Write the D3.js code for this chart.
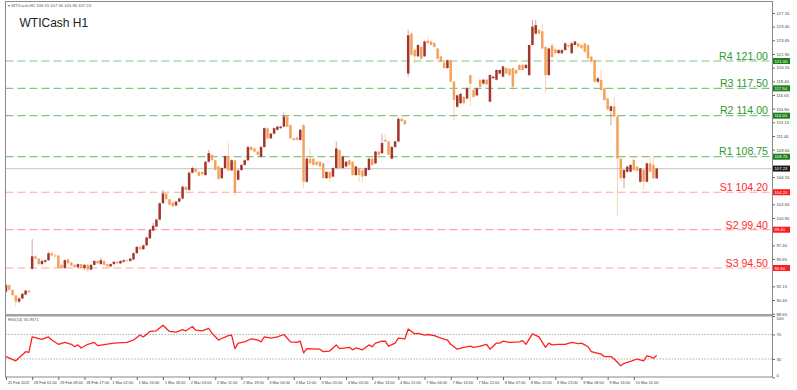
<!DOCTYPE html>
<html>
<head>
<meta charset="utf-8">
<script src="https://cdn.jsdelivr.net/npm/d3@7"></script>
<style>
  body { margin: 0; background: #fff; }
  svg { display: block; font-family: "Liberation Sans", Arial, sans-serif; }
</style>
</head>
<body>
<div id="chart"></div>
<script>
// WTICash H1 candles, one row per hour bar: open, high, low, close
var bars = [
  [91.5,92.5,91.3,92.3],[92.3,92.4,91.6,91.7],[91.7,91.8,90.9,91.0],[91.0,91.1,89.6,90.2],
  [90.2,90.8,90.0,90.6],[90.6,91.3,90.5,91.2],[91.1,91.7,91.0,91.6],[91.6,91.7,91.3,91.4],
  [94.4,98.2,94.3,96.0],[96.0,96.2,95.6,95.7],[95.7,95.8,94.8,95.0],[95.0,95.6,94.9,95.4],
  [95.3,95.6,95.1,95.5],[95.5,96.6,95.4,96.4],[96.4,96.6,96.0,96.1],[96.1,96.4,95.8,96.0],
  [96.1,96.2,94.4,94.5],[94.9,95.1,94.4,94.5],[94.5,95.6,94.4,95.5],[95.6,95.7,95.0,95.1],
  [95.2,95.3,94.7,94.8],[94.9,95.0,94.5,94.6],[94.6,95.1,94.5,95.0],[95.0,95.1,94.4,94.5],
  [94.5,95.0,94.2,94.9],[94.9,95.0,93.9,94.3],[94.3,95.0,94.2,94.9],[94.9,95.5,94.8,95.4],
  [95.4,95.5,95.0,95.1],[95.0,95.8,94.9,95.5],[95.4,95.5,94.8,94.9],[95.0,95.1,94.6,94.7],
  [94.7,95.1,94.6,95.0],[95.0,95.4,94.9,95.3],[95.3,95.4,95.0,95.1],[95.1,95.5,95.0,95.4],
  [95.3,95.6,95.2,95.5],[95.5,95.6,95.3,95.4],[95.4,95.8,95.3,95.7],[95.6,96.5,95.5,96.4],
  [96.4,97.3,96.3,97.2],[97.2,97.4,96.8,96.9],[96.9,97.5,96.8,97.4],[97.4,98.5,97.3,98.4],
  [98.3,99.5,98.2,99.4],[99.3,100.3,99.2,99.9],[99.8,100.8,99.7,100.7],[100.7,102.9,100.6,102.8],
  [102.8,104.5,102.7,104.05],[104.0,104.2,103.2,103.3],[103.3,103.4,102.5,102.6],[102.9,103.0,102.3,102.4],
  [102.5,103.1,102.4,103.0],[103.0,103.5,102.9,103.4],[103.4,105.1,103.3,104.9],[104.9,105.0,104.4,104.5],
  [104.5,106.9,104.4,106.7],[106.7,107.5,106.6,107.3],[107.2,107.4,106.7,106.8],[106.8,106.9,106.2,106.3],
  [106.8,106.9,106.3,106.5],[106.4,108.2,106.3,108.1],[108.1,109.6,108.0,109.2],[109.0,109.2,108.2,108.3],
  [108.3,108.4,107.0,107.05],[107.5,107.6,105.8,105.9],[106.0,107.4,105.9,107.3],[107.3,108.9,107.2,108.8],
  [108.8,110.5,106.9,107.0],[107.0,108.4,106.9,108.3],[108.3,108.4,103.7,104.1],[105.8,107.1,105.7,107.0],
  [107.05,107.8,106.9,107.7],[107.7,108.4,107.6,108.3],[108.3,110.1,108.2,110.0],[110.0,110.2,109.5,109.6],
  [109.8,109.9,109.3,109.4],[109.4,109.5,108.9,109.0],[108.75,110.1,108.6,110.0],[110.0,112.5,109.9,112.4],
  [112.4,112.5,111.0,111.1],[111.1,111.8,111.0,111.7],[111.7,112.5,111.6,112.4],[112.2,112.7,112.1,112.6],
  [112.4,112.7,112.3,112.6],[112.6,114.4,112.5,113.9],[113.9,114.0,112.5,112.6],[112.8,112.9,111.0,111.1],
  [111.1,111.2,110.8,110.9],[111.2,111.3,110.8,110.9],[110.9,112.3,110.8,112.2],[112.8,112.9,104.7,105.55],
  [105.55,108.6,105.4,108.5],[108.5,109.8,107.8,107.9],[108.5,108.6,107.6,107.7],[108.1,108.2,107.6,107.7],
  [108.1,108.2,107.4,107.5],[107.9,108.0,105.9,106.0],[106.0,106.9,105.9,106.8],[106.8,106.9,105.5,106.0],
  [106.2,107.4,106.1,107.3],[107.3,110.7,107.2,109.8],[109.6,109.7,107.2,107.3],[107.3,108.9,107.2,108.75],
  [107.5,108.2,107.4,108.1],[108.3,108.4,107.6,107.7],[108.1,108.2,106.3,106.4],[106.4,107.6,106.3,107.5],
  [107.3,107.4,105.55,106.4],[107.0,107.1,105.5,106.2],[106.3,107.4,106.2,107.3],[107.05,108.6,107.0,108.5],
  [108.5,108.6,107.6,107.7],[107.9,109.5,107.8,109.4],[109.4,109.5,108.9,109.0],[109.2,111.7,109.1,110.5],
  [110.9,111.7,110.6,110.7],[110.7,110.8,108.9,109.0],[108.5,110.1,108.4,110.0],[110.0,110.8,109.9,110.7],
  [110.7,113.8,110.6,113.6],[113.6,113.8,113.2,113.3],[113.4,113.5,112.8,112.9],[119.4,125.0,119.0,124.3],
  [124.5,124.8,121.6,121.8],[122.4,122.6,120.7,121.6],[121.6,123.2,121.5,123.05],[122.8,123.0,121.2,121.3],
  [121.6,123.6,121.5,123.5],[123.6,124.1,123.2,123.3],[123.5,123.7,123.0,123.05],[123.3,123.4,122.7,122.8],
  [122.6,122.7,121.2,121.3],[121.6,121.7,120.8,120.9],[120.8,120.9,120.0,120.1],[120.1,121.2,120.0,121.1],
  [121.1,121.2,118.3,118.35],[118.35,118.5,113.45,116.0],[115.15,116.7,115.0,116.6],[115.6,116.9,115.5,116.8],
  [116.4,116.5,115.5,115.6],[116.2,117.6,116.1,117.5],[119.2,119.3,115.2,118.1],[117.3,117.4,116.3,116.4],
  [116.6,117.6,116.5,117.5],[118.6,118.7,117.6,117.7],[118.1,118.7,118.0,118.6],[118.6,118.7,117.9,118.0],
  [115.8,119.3,115.7,119.2],[118.8,119.1,118.7,119.0],[118.6,119.9,118.5,119.85],[119.4,119.9,119.3,119.85],
  [119.0,120.4,118.9,120.3],[120.1,120.2,119.3,119.4],[120.0,120.1,119.1,119.2],[120.1,120.2,117.3,117.7],
  [119.85,119.9,119.3,119.4],[120.5,120.6,119.8,119.85],[120.5,120.6,119.8,119.85],[120.1,120.6,120.0,120.5],
  [119.2,123.1,119.1,123.05],[123.05,126.25,123.0,125.4],[124.5,126.25,124.4,125.6],[125.0,125.1,124.4,124.5],
  [124.8,125.8,122.5,122.6],[122.8,122.9,116.9,119.2],[119.2,122.7,119.1,122.6],[123.0,123.3,121.4,121.5],
  [122.5,122.6,121.9,122.0],[122.0,122.5,121.9,122.4],[122.0,122.5,121.9,122.4],[122.4,123.4,122.3,123.26],
  [123.05,123.1,122.7,122.84],[122.0,123.4,121.9,123.26],[123.05,123.6,123.0,123.5],[123.26,123.3,122.7,122.84],
  [123.05,123.1,122.5,122.62],[123.26,123.3,122.1,122.2],[123.05,123.1,121.2,121.34],[121.56,121.6,120.8,120.92],
  [121.13,121.2,118.2,118.35],[118.35,118.9,118.2,118.78],[118.57,119.85,117.2,117.29],[117.5,117.6,115.9,116.0],
  [116.2,116.3,114.7,114.8],[114.6,115.3,112.8,115.2],[115.2,116.4,113.8,113.9],[113.9,114.0,101.07,108.5],
  [108.5,108.6,105.55,106.0],[106.0,107.1,104.7,107.05],[106.83,107.6,106.7,107.47],[106.83,107.8,106.7,107.69],
  [108.33,108.75,106.9,107.05],[107.47,107.6,106.8,106.96],[105.55,107.3,105.4,107.26],[107.05,107.2,104.5,105.55],
  [105.55,108.0,105.4,107.9],[107.9,108.75,106.7,106.83],[107.69,108.75,105.9,105.98],[105.98,107.34,105.9,107.23]
];

// RSI(14): bar index, value
var rsiBars = [0,3,6,7,8,11,13,14,16,18,20,21,22,23,25,27,28,33,37,39,41,42,44,46,48,50,52,54,55,57,58,60,62,63,65,68,69,70,71,73,75,77,78,79,81,83,85,87,89,90,91,92,96,97,99,101,102,105,106,107,109,111,112,113,115,116,117,119,120,122,123,125,126,128,129,131,133,135,136,138,140,142,143,145,147,148,150,151,152,154,157,158,159,161,163,165,166,167,169,171,173,175,176,178,179,182,183,185,186,188,189,191,193,195,196,197,198,199];
var rsiVals = [34,27,42,41,66,62,66,61,54,57,54,50,53,48,54,57,52,56,57,61,69,66,75,76,85,75,74,78,76,83,77,76,80,72,61,68,69,47,56,58,63,61,58,66,64,66,70,58,57,59,40,47,46,42,43,53,47,49,45,48,45,53,50,56,59,59,51,56,64,63,79,71,72,69,70,68,64,61,54,46,49,51,49,51,54,46,56,56,59,57,58,60,54,71,66,49,56,53,54,54,57,55,56,50,42,38,34,34,30,19,23,26,30,27,35,34,31,36];

// pivot levels
var levelNames  = ["R4","R3","R2","R1","S1","S2","S3"];
var levelValues = [121.00,117.50,114.00,108.75,104.20,99.40,94.50];
var lastPrice = 107.23;

// right price scale labels
var priceTicks = [88.65,90.40,92.15,93.90,95.65,97.40,99.15,100.90,102.65,104.40,106.15,107.90,
                  109.65,111.40,113.15,114.90,116.65,118.40,120.15,121.90,123.65,125.40,127.15];

// time scale labels every 8 bars
var timeBars = [0,8,16,24,32,40,48,56,64,72,80,88,96,104,112,120,128,136,144,152,160,168,176,184,192];
var timeLabels = ["25 Feb 2022","28 Feb 01:00","28 Feb 09:00","28 Feb 17:00","1 Mar 02:00","1 Mar 10:00",
  "1 Mar 18:00","2 Mar 03:00","2 Mar 11:00","2 Mar 19:00","3 Mar 04:00","3 Mar 12:00","3 Mar 20:00",
  "4 Mar 05:00","4 Mar 13:00","4 Mar 21:00","7 Mar 06:00","7 Mar 14:00","7 Mar 22:00","8 Mar 07:00",
  "8 Mar 15:00","8 Mar 23:00","9 Mar 08:00","9 Mar 16:00","10 Mar 01:00"];

var rsiTicks = [0,30,70,100];

var W = 797, H = 390;
var plot = {left: 5.5, right: 772.5, top: 1.5, mainBot: 314, rsiTop: 316.5, bot: 377};

var col = {
    bull: "#a3352c", bear: "#f4a25a",
    resLine: "#86c186", resText: "#2f9a2f", resBox: "#1f7f1f",
    supLine: "#ffa5a5", supText: "#ff2b2b", supBox: "#ff1c1c",
    axis: "#8a8a8a", text: "#333"
};
var tinyFont = "4.2px";

var svg = d3.select("#chart").append("svg")
    .attr("width", W)
    .attr("height", H);

var x = d3.scaleLinear().domain([0, 199]).range([6, 656.7]);
var y = d3.scaleLinear().domain([94.5, 121]).range([268, 61]);
var ry = d3.scaleLinear().domain([0, 100]).range([377.4, 316.1]);

svg.append("defs").append("clipPath").attr("id", "clipMain")
    .append("rect")
    .attr("x", plot.left).attr("y", plot.top)
    .attr("width", plot.right - plot.left).attr("height", plot.mainBot - plot.top);

var main = svg.append("g").attr("clip-path", "url(#clipMain)");

// last price line
main.append("line")
    .attr("x1", plot.left).attr("x2", plot.right)
    .attr("y1", y(lastPrice)).attr("y2", y(lastPrice))
    .attr("stroke", "#cfcfcf").attr("stroke-width", 1.2);

// pivot lines
levelValues.forEach(function(v, i) {
    var res = levelNames[i][0] == "R";
    main.append("line")
        .attr("x1", plot.left).attr("x2", plot.right)
        .attr("y1", y(v)).attr("y2", y(v))
        .attr("stroke", res ? col.resLine : col.supLine)
        .attr("stroke-width", 1.2)
        .attr("stroke-dasharray", "8,4");
});

// candles
var candles = main.append("g").selectAll("g")
    .data(bars)
    .enter().append("g");

candles.append("line")
    .attr("x1", function(d, i) { return x(i); })
    .attr("x2", function(d, i) { return x(i); })
    .attr("y1", function(d) { return y(d[1]); })
    .attr("y2", function(d) { return y(d[2]); })
    .attr("stroke", function(d) { return d[3] >= d[0] ? col.bull : col.bear; })
    .attr("stroke-opacity", 0.45)
    .attr("stroke-width", 1);

candles.append("rect")
    .attr("x", function(d, i) { return x(i) - 1.25; })
    .attr("width", 2.5)
    .attr("y", function(d) { return y(Math.max(d[0], d[3])); })
    .attr("height", function(d) { return Math.max(0.8, Math.abs(y(d[0]) - y(d[3]))); })
    .attr("fill", function(d) { return d[3] >= d[0] ? col.bull : col.bear; });

// pivot labels
levelValues.forEach(function(v, i) {
    var res = levelNames[i][0] == "R";
    svg.append("text")
        .attr("x", 768).attr("y", y(v) - 1.2)
        .attr("text-anchor", "end")
        .attr("font-size", "10.6px")
        .attr("fill", res ? col.resText : col.supText)
        .text(levelNames[i] + " " + v.toFixed(2));
});

// title + header
svg.append("text")
    .attr("x", 19.5).attr("y", 26.5)
    .attr("font-size", "12px")
    .attr("fill", "#222")
    .text("WTICash H1");

svg.append("text")
    .attr("x", 8).attr("y", 6.5)
    .attr("font-size", tinyFont)
    .attr("fill", "#555")
    .text("\u25BE WTICash,H1  106.15 107.34 105.90 107.23");

// frame
svg.append("rect")
    .attr("x", plot.left).attr("y", plot.top)
    .attr("width", plot.right - plot.left).attr("height", plot.bot - plot.top)
    .attr("fill", "none").attr("stroke", col.axis).attr("stroke-width", 1);

svg.append("rect")
    .attr("x", plot.left).attr("y", plot.mainBot)
    .attr("width", plot.right - plot.left).attr("height", plot.rsiTop - plot.mainBot)
    .attr("fill", "#a3a3a3");

// level boxes on the price scale
var boxes = levelValues.map(function(v, i) {
    return {v: v, fill: levelNames[i][0] == "R" ? col.resBox : col.supBox};
});
boxes.push({v: lastPrice, fill: "#1a1a1a"});

// right price axis, skipping labels hidden under a level box
var shownTicks = priceTicks.filter(function(t) {
    return boxes.every(function(b) { return Math.abs(y(t) - y(b.v)) > 5.5; });
});
var yAxis = svg.append("g")
    .attr("transform", "translate(" + plot.right + ",0)")
    .call(d3.axisRight(y).tickValues(shownTicks).tickSize(2.5).tickPadding(1.5)
          .tickFormat(function(d) { return d.toFixed(2); }));
yAxis.select(".domain").remove();
yAxis.selectAll("text").attr("font-size", tinyFont).attr("fill", "#444")
    .attr("font-family", "Liberation Sans, Arial, sans-serif");
yAxis.selectAll("line").attr("stroke", "#666");

boxes.forEach(function(b) {
    svg.append("rect")
        .attr("x", plot.right + 0.5).attr("y", y(b.v) - 3)
        .attr("width", 17).attr("height", 6)
        .attr("fill", b.fill);
    svg.append("text")
        .attr("x", plot.right + 2).attr("y", y(b.v) + 1.6)
        .attr("font-size", tinyFont).attr("fill", "#fff")
        .text(b.v.toFixed(2));
});

// RSI panel
var rsiData = rsiBars.map(function(b, i) { return [b, rsiVals[i]]; });

[70, 30].forEach(function(v) {
    svg.append("line")
        .attr("x1", plot.left).attr("x2", plot.right)
        .attr("y1", ry(v)).attr("y2", ry(v))
        .attr("stroke", "#9a9a9a").attr("stroke-width", 0.8)
        .attr("stroke-dasharray", "1.5,1.5");
});

svg.append("path")
    .datum(rsiData)
    .attr("fill", "none")
    .attr("stroke", "#ff2020")
    .attr("stroke-width", 1.3)
    .attr("stroke-linejoin", "round")
    .attr("d", d3.line()
          .x(function(d) { return x(d[0]); })
          .y(function(d) { return ry(d[1]); }));

svg.append("text")
    .attr("x", 8).attr("y", 320.5)
    .attr("font-size", tinyFont).attr("fill", "#555")
    .text("RSI(14) 35.9571");

var rAxis = svg.append("g")
    .attr("transform", "translate(" + plot.right + ",0)")
    .call(d3.axisRight(ry).tickValues(rsiTicks).tickSize(2.5).tickPadding(1.5));
rAxis.select(".domain").remove();
rAxis.selectAll("text").attr("font-size", tinyFont).attr("fill", "#444")
    .attr("font-family", "Liberation Sans, Arial, sans-serif")
    .attr("dy", function(d) { return d == 100 ? "0.9em" : (d == 0 ? "-0.1em" : "0.32em"); });
rAxis.selectAll("line").attr("stroke", "#666");

// time axis
var xAxis = svg.append("g")
    .attr("transform", "translate(0," + plot.bot + ")")
    .call(d3.axisBottom(x).tickValues(timeBars).tickSize(3).tickPadding(1)
          .tickFormat(function(d, i) { return timeLabels[i]; }));
xAxis.select(".domain").remove();
xAxis.selectAll("text")
    .attr("font-size", "3.9px").attr("fill", "#444")
    .attr("font-family", "Liberation Sans, Arial, sans-serif")
    .attr("text-anchor", "start").attr("dx", "1.2");
xAxis.selectAll("line").attr("stroke", "#666");
</script>
</body>
</html>
